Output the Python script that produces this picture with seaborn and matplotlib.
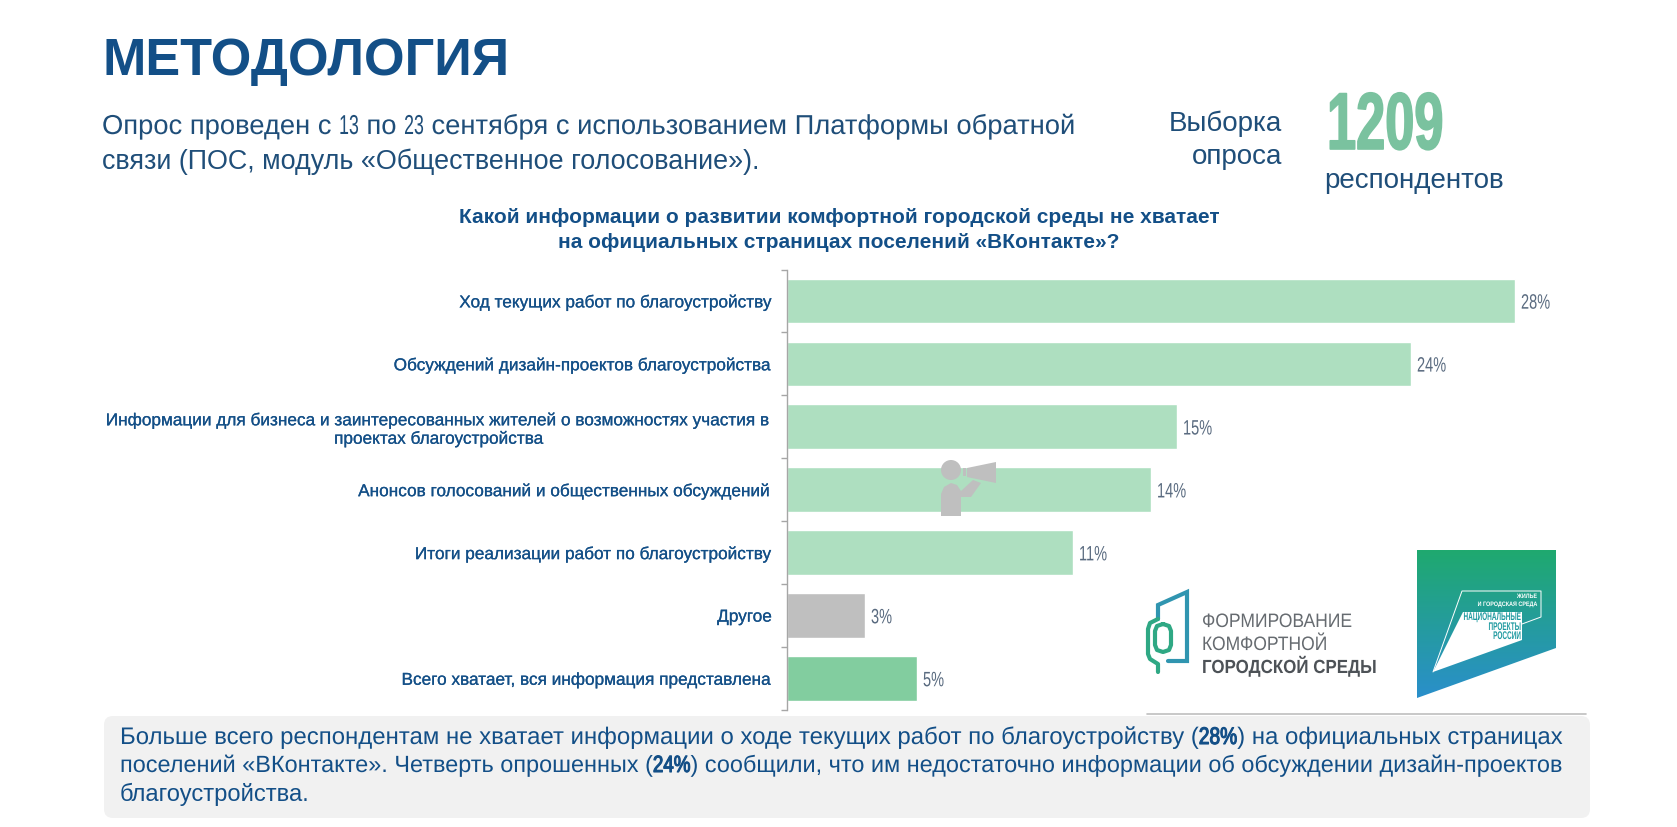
import numpy as np
import pandas as pd
import matplotlib
matplotlib.use("Agg")
import matplotlib.pyplot as plt
import seaborn as sns
from matplotlib.font_manager import FontProperties
from matplotlib.patches import Polygon, FancyBboxPatch, Circle, Rectangle
from matplotlib.path import Path
from matplotlib.patheffects import AbstractPathEffect, withStroke
from matplotlib.textpath import text_to_path
from matplotlib.transforms import Affine2D, Bbox
from matplotlib.colors import to_rgb

categories = ["Ход текущих работ по благоустройству",
              "Обсуждений дизайн-проектов благоустройства",
              "Информации для бизнеса и заинтересованных жителей о возможностях участия в\nпроектах благоустройства",
              "Анонсов голосований и общественных обсуждений",
              "Итоги реализации работ по благоустройству",
              "Другое",
              "Всего хватает, вся информация представлена"]
values = [28, 24, 15, 14, 11, 3, 5]
bar_colors = ["#AEDFC0", "#AEDFC0", "#AEDFC0", "#AEDFC0", "#AEDFC0", "#BFBFBF", "#82CD9F"]

NAVY = "#1F4E79"
BLUE = "#134F87"
SANS = "Liberation Sans"

sns.set_theme(style="white")
W, H = 1677, 828
fig = plt.figure(figsize=(W/100, H/100), dpi=100, facecolor="white")
plt.rcParams["font.family"] = [SANS, "DejaVu Sans"]


class Squeeze(AbstractPathEffect):
    """Draw real text horizontally condensed about its left anchor."""
    def __init__(self, sx, stroke=0.0):
        self.sx, self.stroke = sx, stroke

    def draw_path(self, renderer, gc, tpath, affine, rgbFace=None):
        m = affine.get_matrix().copy()
        m[0, 0] *= self.sx
        m[0, 1] *= self.sx
        gc0 = renderer.new_gc()
        gc0.copy_properties(gc)
        if self.stroke:
            gc0.set_linewidth(self.stroke)
            gc0.set_foreground(rgbFace if rgbFace is not None else "k")
        else:
            gc0.set_linewidth(0)
        renderer.draw_path(gc0, tpath, Affine2D(m), rgbFace)
        gc0.restore()


class Spans(AbstractPathEffect):
    """Condense (and optionally embolden) character ranges inside one text line."""
    def __init__(self, text, spans):
        fp = FontProperties(family=SANS, size=100)
        adv = lambda s: text_to_path.get_text_width_height_descent(s + "x", fp, False)[0] - \
            text_to_path.get_text_width_height_descent("x", fp, False)[0]
        self.spans = []
        for sub, sx, stroke in spans:
            i = text.index(sub)
            self.spans.append((adv(text[:i]), adv(text[:i + len(sub)]), sx, stroke))

    def draw_path(self, renderer, gc, tpath, affine, rgbFace=None):
        xs, ys = [0.0], [0.0]
        for a0, a1, sx, _ in self.spans:
            ys.append(ys[-1] + a0 - xs[-1]); xs.append(a0)
            ys.append(ys[-1] + (a1 - a0) * sx); xs.append(a1)
        xs.append(xs[-1] + 1e5); ys.append(ys[-1] + 1e5)
        v = tpath.vertices.copy()
        orig_x = v[:, 0].copy()
        v[:, 0] = np.interp(orig_x, xs, ys)
        gc0 = renderer.new_gc()
        gc0.copy_properties(gc)
        gc0.set_linewidth(0)
        renderer.draw_path(gc0, Path(v, tpath.codes), affine, rgbFace)
        starts = np.flatnonzero(tpath.codes == Path.MOVETO).tolist() + [len(v)]
        for a0, a1, _, stroke in self.spans:
            if not stroke:
                continue
            idx = [np.arange(s, e) for s, e in zip(starts[:-1], starts[1:])
                   if a0 <= orig_x[s:e].mean() <= a1]
            if idx:
                sel = np.concatenate(idx)
                gc0.set_linewidth(stroke)
                gc0.set_foreground(rgbFace)
                renderer.draw_path(gc0, Path(v[sel], tpath.codes[sel]), affine, rgbFace)
        gc0.restore()


def squeezed(t, sx, stroke=0.0):
    t.set_path_effects([Squeeze(sx, stroke)])
    return t


# overlay in pixel coordinates
ov = fig.add_axes([0, 0, 1, 1], zorder=0)
ov.set_xlim(0, W); ov.set_ylim(H, 0); ov.axis("off")

# chart
L, R, T, B = 787, 1560, 270.5, 711
ax = fig.add_axes([L/W, 1-B/H, (R-L)/W, (B-T)/H], zorder=1)
ax.patch.set_alpha(0)
df = pd.DataFrame({"cat": categories, "val": values})
sns.barplot(data=df, y="cat", x="val", hue="cat", palette=bar_colors, legend=False,
            width=0.71, ax=ax, saturation=1)
ax.set_xlim(0, (R-L)/26.0)
ax.set_ylim(6.5, -0.5)
ax.set_xlabel(""); ax.set_ylabel("")
sns.despine(ax=ax, bottom=True)
ax.spines["left"].set_color("#A6A6A6"); ax.spines["left"].set_linewidth(1.0)
ax.set_xticks([])
ax.set_yticks(np.arange(len(categories)))
ax.set_yticklabels(categories, fontsize=12.4, color=BLUE, family=SANS,
                   linespacing=1.2, ha="right", multialignment="center",
                   path_effects=[withStroke(linewidth=0.15, foreground=BLUE)])
ax.tick_params(axis="y", which="major", length=0, pad=10.7)
ax.set_yticks(np.arange(len(categories)+1)-0.5, minor=True)
ax.tick_params(axis="y", which="minor", length=4, width=1.0, color="#A6A6A6", left=True)
r = fig.canvas.get_renderer()
for i, v in enumerate(values):
    squeezed(ax.text(v + 0.23, i + 0.035, f"{v}%", va="center", ha="left", fontsize=15,
                     color="#5A6B80", family=SANS), 0.7)


def width_of(txt, size, wt="normal"):
    p = ov.text(0, 0, txt.replace(" ", "\u00a0"), fontsize=size, family=SANS, fontweight=wt)
    w = p.get_window_extent(r).width
    p.remove()
    return w


def stext(a, x, y, s, size, sx=1.0, color=NAVY, wt="normal", anchor="left", zorder=4):
    w = width_of(s, size, wt) * sx
    x0 = x - (w if anchor == "right" else w/2 if anchor == "center" else 0)
    squeezed(a.text(x0, y, s, fontsize=size, color=color, family=SANS, fontweight=wt, va="baseline", ha="left",
                    zorder=zorder), sx)


def mixed(x, y, s, spans, size, color):
    ov.text(x, y, s, fontsize=size, color=color, family=SANS, va="baseline", ha="left",
            path_effects=[Spans(s, spans)])


# header
ov.text(103, 75, "МЕТОДОЛОГИЯ", fontsize=37.5, fontweight="bold", color=BLUE, family=SANS, va="baseline")
mixed(102, 135, "Опрос проведен с 13 по 23 сентября с использованием Платформы обратной",
      [("13", 0.65, 0), ("23", 0.65, 0)], 19.7, NAVY)
ov.text(102, 169, "связи (ПОС, модуль «Общественное голосование»).", fontsize=19.4, color=NAVY, family=SANS, va="baseline")
ov.text(1282, 131, "Выборка", fontsize=20, color=NAVY, family=SANS, ha="right", va="baseline")
ov.text(1282, 164, "опроса", fontsize=20, color=NAVY, family=SANS, ha="right", va="baseline")
squeezed(ov.text(1327, 150, "1209", fontsize=58, fontweight="bold", color="#7AC29F", family=SANS, va="baseline"),
         0.65, stroke=1.2)
ov.text(1324, 188, "респондентов", fontsize=20, color=NAVY, family=SANS, va="baseline")
ov.text(839, 223, "Какой информации о развитии комфортной городской среды не хватает", fontsize=15,
        fontweight="bold", color=BLUE, family=SANS, ha="center", va="baseline")
ov.text(839, 248, "на официальных страницах поселений «ВКонтакте»?", fontsize=15,
        fontweight="bold", color=BLUE, family=SANS, ha="center", va="baseline")

# bottom box
ov.add_patch(FancyBboxPatch((104, 717), 1486, 102, boxstyle="round,pad=0,rounding_size=9",
                            fc="#F1F1F1", ec="none", mutation_aspect=1))
ov.plot([1147, 1586], [715, 715], color="#BFBFBF", lw=1.2)
mixed(120, 745, "Больше всего респондентам не хватает информации о ходе текущих работ по благоустройству (28%) на официальных страницах",
      [("28%", 0.8, 0.8)], 17.25, BLUE)
mixed(120, 773, "поселений «ВКонтакте». Четверть опрошенных (24%) сообщили, что им недостаточно информации об обсуждении дизайн-проектов",
      [("24%", 0.8, 0.8)], 16.9, BLUE)
ov.text(120, 801, "благоустройства.", fontsize=17.1, color=BLUE, family=SANS, va="baseline")

# megaphone person icon (above bars)
top = fig.add_axes([0, 0, 1, 1], zorder=3)
top.set_xlim(0, W); top.set_ylim(H, 0); top.axis("off"); top.patch.set_alpha(0)
G = "#BFBFBF"
top.add_patch(Circle((951, 471), 10, fc=G, ec="none"))
top.add_patch(Polygon([(941, 517), (941, 495), (944, 488), (951, 484), (957, 486), (961, 492),
                       (973, 481), (981, 484), (971, 498), (961, 498), (961, 517)], fc=G, ec="none"))
top.add_patch(Rectangle((963, 469), 3, 8, fc=G, ec="none"))
top.add_patch(Polygon([(967, 469), (996, 463), (996, 484), (967, 478)], fc=G, ec="none"))


def grad_poly(a, pts, c0, c1, ext):
    x0, x1, y0, y1 = ext
    c0, c1 = np.array(to_rgb(c0)), np.array(to_rgb(c1))
    g = np.linspace(0, 1, 128)[:, None, None] * (c1 - c0) + c0
    g = np.repeat(g, 2, axis=1)
    im = a.imshow(g, extent=[x0, x1, y1, y0], aspect="auto", zorder=2, interpolation="bilinear")
    p = Polygon(pts, transform=a.transData, fc="none", ec="none")
    a.add_patch(p)
    im.set_clip_path(p)


a = top
grad_poly(a, [(1417, 551), (1556, 551), (1556, 649), (1417, 699)], "#1FA96F", "#2A8FCB", (1417, 1556, 551, 699))
top.set_xlim(0, W); top.set_ylim(H, 0)
a.add_patch(Polygon([(1433, 673), (1463, 613), (1522, 613), (1522, 641)], fc="white", ec="none", zorder=3))
a.plot([1433, 1462, 1541, 1541, 1522], [673, 592, 592, 618, 625], color="white", lw=0.7, zorder=3)
stext(a, 1537, 599, "ЖИЛЬЕ", 4.6, 0.85, "white", "bold", "right")
stext(a, 1537, 607, "И ГОРОДСКАЯ СРЕДА", 4.6, 0.85, "white", "bold", "right")
for yy, s in [(621, "НАЦИОНАЛЬНЫЕ"), (631, "ПРОЕКТЫ"), (640, "РОССИИ")]:
    stext(a, 1521, yy, s, 8, 0.58, "#1F9AA0", "bold", "right")

c1, c2 = "#2FA884", "#3095B0"
lw = 3.0
a.plot([1158, 1158, 1187, 1187, 1168], [620, 606, 593, 662, 662], color=c2, lw=lw, solid_joinstyle="miter", zorder=3)
a.plot([1158, 1150, 1148, 1148, 1150, 1158, 1158], [620, 624, 630, 655, 660, 665, 673], color=c1, lw=lw, zorder=3)
a.plot([1163, 1169, 1171, 1171, 1169, 1163, 1157, 1155, 1155, 1157, 1163],
       [625, 627, 632, 646, 651, 653, 651, 646, 632, 627, 625], color=c1, lw=lw, zorder=3)
stext(a, 1202, 628, "ФОРМИРОВАНИЕ", 14, 0.9, "#666B70")
stext(a, 1202, 651, "КОМФОРТНОЙ", 14, 0.9, "#666B70")
stext(a, 1202, 674, "ГОРОДСКОЙ СРЕДЫ", 13.7, 0.89, "#4D5257", "bold")

fig.savefig("out.png", dpi=100, facecolor="white")
